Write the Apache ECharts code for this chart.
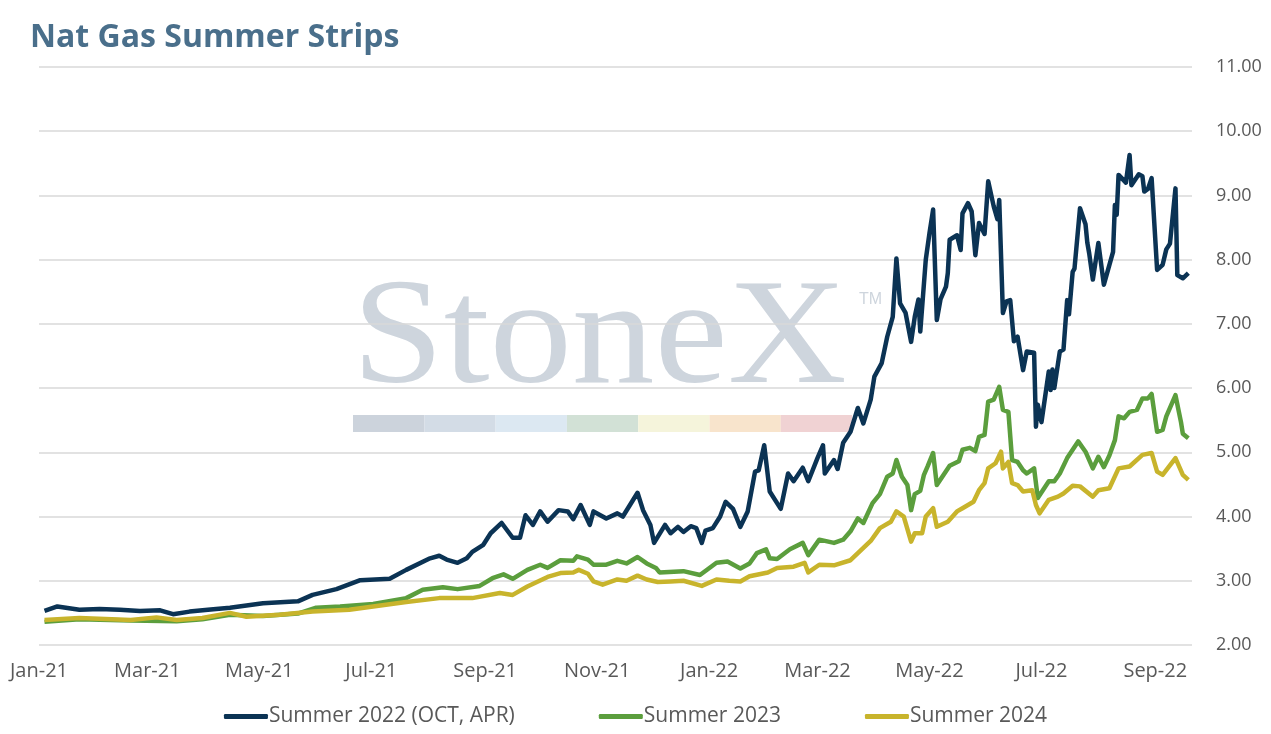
<!DOCTYPE html>
<html>
<head>
<meta charset="utf-8">
<title>Nat Gas Summer Strips</title>
<script src="https://cdn.jsdelivr.net/npm/echarts@6/dist/echarts.min.js"></script>
<style>
  html, body { margin: 0; padding: 0; background: #fff; }
  #chart { width: 1271px; height: 734px; }
</style>
</head>
<body>
<div id="chart"></div>
<script>
// x-axis ticks (every other month)
var tickDates = ['2021-01-01', '2021-03-01', '2021-05-01', '2021-07-01', '2021-09-01', '2021-11-01',
  '2022-01-01', '2022-03-01', '2022-05-01', '2022-07-01', '2022-09-01'];
var tickLabels = ['Jan-21', 'Mar-21', 'May-21', 'Jul-21', 'Sep-21', 'Nov-21',
  'Jan-22', 'Mar-22', 'May-22', 'Jul-22', 'Sep-22'];

// Summer 2022 (OCT, APR)
var s22Dates = ['2021-01-04','2021-01-11','2021-01-23','2021-02-03','2021-02-14','2021-02-25','2021-03-08','2021-03-15',
  '2021-03-24','2021-04-03','2021-04-15','2021-05-03','2021-05-22','2021-05-30','2021-06-12','2021-06-25','2021-07-11',
  '2021-07-20','2021-08-02','2021-08-07','2021-08-11','2021-08-17','2021-08-22','2021-08-25','2021-08-31','2021-09-04',
  '2021-09-10','2021-09-16','2021-09-20','2021-09-23','2021-09-27','2021-10-01','2021-10-05','2021-10-11','2021-10-16',
  '2021-10-19','2021-10-23','2021-10-28','2021-10-30','2021-11-06','2021-11-12','2021-11-15','2021-11-23','2021-11-26',
  '2021-11-30','2021-12-02','2021-12-08','2021-12-11','2021-12-15','2021-12-18','2021-12-22','2021-12-25','2021-12-28',
  '2021-12-30','2022-01-03','2022-01-07','2022-01-10','2022-01-14','2022-01-18','2022-01-22','2022-01-26','2022-01-28',
  '2022-01-31','2022-02-03','2022-02-09','2022-02-13','2022-02-16','2022-02-21','2022-02-24','2022-03-01','2022-03-04',
  '2022-03-05','2022-03-10','2022-03-12','2022-03-15','2022-03-19','2022-03-23','2022-03-26','2022-03-30','2022-04-01',
  '2022-04-05','2022-04-08','2022-04-11','2022-04-13','2022-04-15','2022-04-18','2022-04-19','2022-04-21','2022-04-23',
  '2022-04-25','2022-04-26','2022-04-29','2022-05-01','2022-05-03','2022-05-05','2022-05-07','2022-05-10','2022-05-11',
  '2022-05-12','2022-05-16','2022-05-18','2022-05-19','2022-05-22','2022-05-24','2022-05-26','2022-05-28','2022-05-31',
  '2022-06-02','2022-06-05','2022-06-07','2022-06-08','2022-06-10','2022-06-12','2022-06-14','2022-06-16','2022-06-18',
  '2022-06-21','2022-06-23','2022-06-27','2022-06-28','2022-06-29','2022-07-01','2022-07-05','2022-07-06','2022-07-07',
  '2022-07-08','2022-07-11','2022-07-13','2022-07-15','2022-07-16','2022-07-18','2022-07-19','2022-07-22','2022-07-25',
  '2022-07-26','2022-07-27','2022-07-29','2022-08-01','2022-08-04','2022-08-09','2022-08-10','2022-08-11','2022-08-12',
  '2022-08-16','2022-08-18','2022-08-19','2022-08-23','2022-08-25','2022-08-26','2022-08-28','2022-08-30','2022-09-02',
  '2022-09-05','2022-09-07','2022-09-09','2022-09-12','2022-09-13','2022-09-16','2022-09-19'];
var s22Vals = [2.53,2.60,2.55,2.56,2.55,2.53,2.54,2.48,
  2.52,2.55,2.58,2.65,2.68,2.78,2.87,3.01,3.03,
  3.17,3.35,3.39,3.33,3.28,3.35,3.45,3.56,3.74,
  3.90,3.67,3.67,4.02,3.87,4.08,3.92,4.10,4.08,
  3.96,4.18,3.87,4.08,3.97,4.05,4.00,4.37,4.10,
  3.87,3.59,3.87,3.74,3.84,3.76,3.85,3.82,3.59,
  3.78,3.82,4.00,4.23,4.12,3.84,4.08,4.70,4.72,
  5.11,4.39,4.12,4.67,4.55,4.76,4.55,4.91,5.11,
  4.67,4.88,4.74,5.15,5.32,5.69,5.45,5.82,6.18,
  6.39,6.80,7.11,8.02,7.32,7.17,7.15,6.72,7.11,
  7.38,6.88,8.00,8.41,8.78,7.06,7.38,7.58,7.79,
  8.31,8.38,8.15,8.72,8.88,8.75,8.07,8.57,8.40,
  9.22,8.83,8.63,8.93,7.17,7.35,7.37,6.73,6.80,
  6.28,6.57,6.55,5.40,5.74,5.47,6.26,5.97,6.29,
  6.00,6.57,6.60,7.37,7.15,7.81,7.86,8.80,8.55,
  8.26,8.10,7.69,8.26,7.61,8.12,8.85,8.70,9.32,
  9.20,9.63,9.16,9.33,9.30,9.06,9.10,9.27,7.84,
  7.92,8.16,8.25,9.11,7.76,7.71,7.79];

// Summer 2023
var s23Dates = ['2021-01-04','2021-01-23','2021-02-20','2021-03-17','2021-03-31','2021-04-15','2021-05-03','2021-05-22',
  '2021-06-01','2021-06-14','2021-07-02','2021-07-20','2021-07-29','2021-08-09','2021-08-17','2021-08-29','2021-09-05',
  '2021-09-11','2021-09-16','2021-09-24','2021-10-01','2021-10-05','2021-10-12','2021-10-19','2021-10-21','2021-10-27',
  '2021-10-30','2021-11-06','2021-11-12','2021-11-17','2021-11-23','2021-11-28','2021-12-03','2021-12-05','2021-12-18',
  '2021-12-27','2022-01-05','2022-01-11','2022-01-18','2022-01-23','2022-01-27','2022-02-01','2022-02-03','2022-02-07',
  '2022-02-14','2022-02-21','2022-02-24','2022-03-02','2022-03-10','2022-03-15','2022-03-19','2022-03-23','2022-03-26',
  '2022-03-31','2022-04-04','2022-04-08','2022-04-11','2022-04-13','2022-04-16','2022-04-19','2022-04-21','2022-04-23',
  '2022-04-26','2022-04-28','2022-04-30','2022-05-03','2022-05-05','2022-05-08','2022-05-12','2022-05-17','2022-05-19',
  '2022-05-23','2022-05-26','2022-05-28','2022-05-31','2022-06-02','2022-06-05','2022-06-08','2022-06-10','2022-06-13',
  '2022-06-15','2022-06-18','2022-06-21','2022-06-23','2022-06-27','2022-06-29','2022-07-05','2022-07-08','2022-07-11',
  '2022-07-15','2022-07-18','2022-07-21','2022-07-25','2022-07-29','2022-08-01','2022-08-04','2022-08-07','2022-08-10',
  '2022-08-12','2022-08-15','2022-08-18','2022-08-22','2022-08-25','2022-08-28','2022-08-30','2022-09-02','2022-09-05',
  '2022-09-07','2022-09-12','2022-09-15','2022-09-16','2022-09-19'];
var s23Vals = [2.36,2.40,2.38,2.37,2.40,2.47,2.45,2.49,
  2.58,2.60,2.64,2.73,2.86,2.90,2.87,2.92,3.04,
  3.10,3.03,3.17,3.25,3.20,3.32,3.31,3.38,3.33,
  3.25,3.25,3.31,3.27,3.37,3.27,3.20,3.13,3.15,
  3.09,3.28,3.30,3.19,3.27,3.43,3.49,3.35,3.34,
  3.49,3.59,3.40,3.64,3.59,3.64,3.77,3.97,3.90,
  4.21,4.35,4.62,4.67,4.88,4.62,4.49,4.10,4.35,
  4.40,4.65,4.78,4.99,4.49,4.62,4.79,4.86,5.04,
  5.07,5.02,5.24,5.27,5.79,5.82,6.02,5.66,5.63,
  4.88,4.85,4.72,4.67,4.75,4.29,4.55,4.55,4.67,
  4.91,5.04,5.17,5.01,4.75,4.93,4.77,4.95,5.19,
  5.56,5.53,5.63,5.66,5.84,5.84,5.91,5.32,5.35,
  5.56,5.89,5.47,5.29,5.22];

// Summer 2024
var s24Dates = ['2021-01-04','2021-01-23','2021-02-20','2021-03-06','2021-03-17','2021-03-31','2021-04-15','2021-04-24',
  '2021-05-12','2021-05-30','2021-06-19','2021-07-02','2021-07-20','2021-08-07','2021-08-25','2021-09-09','2021-09-16',
  '2021-09-24','2021-10-05','2021-10-12','2021-10-19','2021-10-22','2021-10-27','2021-10-30','2021-11-04','2021-11-12',
  '2021-11-17','2021-11-23','2021-11-28','2021-12-04','2021-12-11','2021-12-18','2021-12-28','2022-01-05','2022-01-12',
  '2022-01-18','2022-01-23','2022-02-02','2022-02-07','2022-02-16','2022-02-22','2022-02-24','2022-03-02','2022-03-10',
  '2022-03-19','2022-03-23','2022-03-30','2022-04-04','2022-04-10','2022-04-13','2022-04-17','2022-04-21','2022-04-23',
  '2022-04-27','2022-04-29','2022-05-03','2022-05-05','2022-05-11','2022-05-16','2022-05-19','2022-05-25','2022-05-28',
  '2022-05-31','2022-06-02','2022-06-06','2022-06-09','2022-06-10','2022-06-13','2022-06-15','2022-06-18','2022-06-21',
  '2022-06-26','2022-06-28','2022-06-30','2022-07-05','2022-07-10','2022-07-13','2022-07-18','2022-07-22','2022-07-29',
  '2022-08-01','2022-08-07','2022-08-12','2022-08-18','2022-08-25','2022-08-30','2022-09-02','2022-09-05','2022-09-12',
  '2022-09-16','2022-09-19'];
var s24Vals = [2.39,2.42,2.39,2.43,2.39,2.42,2.50,2.44,
  2.47,2.52,2.55,2.60,2.67,2.73,2.73,2.81,2.78,
  2.91,3.06,3.12,3.13,3.17,3.11,2.99,2.94,3.02,
  3.00,3.08,3.02,2.98,2.99,3.00,2.92,3.02,3.00,
  2.99,3.07,3.13,3.20,3.22,3.28,3.13,3.25,3.24,
  3.32,3.43,3.62,3.82,3.92,4.08,4.00,3.61,3.74,
  3.74,4.00,4.13,3.84,3.92,4.08,4.13,4.23,4.41,
  4.52,4.75,4.83,5.01,4.75,4.85,4.52,4.49,4.39,
  4.41,4.18,4.05,4.26,4.31,4.36,4.48,4.47,4.31,
  4.41,4.44,4.75,4.78,4.96,4.99,4.70,4.65,4.91,
  4.65,4.57];

var seriesNames = ['Summer 2022 (OCT, APR)', 'Summer 2023', 'Summer 2024'];
var seriesColors = ['#0b3354', '#5b9e3d', '#c8b42c'];

// watermark band colours
var bandColors = ['#ccd3dc', '#d3dce6', '#dce8f2', '#d2e1d6', '#f5f4db', '#f8e4cc', '#f0d2d3'];

function toTime(s) {
  var p = s.split('-');
  return new Date(+p[0], +p[1] - 1, +p[2]).getTime();
}
function pairs(dates, vals) {
  return dates.map(function (d, i) { return [toTime(d), vals[i]]; });
}

var tickTimes = tickDates.map(toTime);
var labelFor = {};
tickTimes.forEach(function (t, i) { labelFor[t] = tickLabels[i]; });

var font = '"Open Sans", sans-serif';
var graphics = [{
  type: 'text', x: 352, y: 343, scaleX: 1.1, z: -10, silent: true,
  style: { text: 'StoneX', x: 0, y: 0, fill: '#ced5dd', font: '150px "Liberation Serif"', verticalAlign: 'middle', align: 'left' }
}, {
  type: 'text', x: 859, y: 300, z: -10, silent: true,
  style: { text: 'TM', fill: '#ced5dd', font: '16px "Liberation Sans"', verticalAlign: 'middle' }
}];
bandColors.forEach(function (c, i) {
  graphics.push({
    type: 'rect', z: -10, silent: true,
    shape: { x: 353 + i * 71.3, y: 415, width: 71.3, height: 17 },
    style: { fill: c }
  });
});

var chart = echarts.init(document.getElementById('chart'), null, { renderer: 'canvas' });
chart.setOption({
  animation: false,
  backgroundColor: '#fff',
  title: {
    text: 'Nat Gas Summer Strips',
    left: 25, top: 17,
    textStyle: { fontFamily: font, fontSize: 32, fontWeight: 'bold', color: '#4a6f8b' }
  },
  graphic: graphics,
  legend: {
    data: seriesNames,
    bottom: 2,
    left: 'center',
    icon: 'roundRect',
    itemWidth: 44,
    itemHeight: 5,
    itemGap: 84,
    textStyle: { fontFamily: font, fontSize: 21, color: '#595959', padding: [0, 0, 0, -4] }
  },
  grid: { left: 39, right: 79, top: 67, bottom: 89 },
  xAxis: {
    // date axis drawn as a value axis of timestamps, labelled every other month
    type: 'value',
    min: toTime('2021-01-01'),
    max: toTime('2022-09-21'),
    axisLine: { show: false },
    axisTick: { show: false },
    splitLine: { show: false },
    axisLabel: {
      customValues: tickTimes,
      margin: 16,
      fontFamily: font,
      fontSize: 20,
      color: '#595959',
      formatter: function (v) { return labelFor[v] || ''; }
    }
  },
  yAxis: {
    type: 'value',
    position: 'right',
    min: 2, max: 11, interval: 1,
    axisLine: { show: false },
    axisTick: { show: false },
    splitLine: { lineStyle: { color: '#d9d9d9', width: 1.5 } },
    axisLabel: {
      margin: 24,
      fontFamily: font,
      fontSize: 18,
      color: '#595959',
      formatter: function (v) { return v.toFixed(2); }
    }
  },
  series: [
    { name: seriesNames[0], data: pairs(s22Dates, s22Vals) },
    { name: seriesNames[1], data: pairs(s23Dates, s23Vals) },
    { name: seriesNames[2], data: pairs(s24Dates, s24Vals) }
  ].map(function (s, i) {
    return {
      name: s.name, type: 'line', data: s.data,
      showSymbol: false, symbol: 'none',
      color: seriesColors[i],
      lineStyle: { color: seriesColors[i], width: 4.5, join: 'round' }
    };
  })
});
</script>
</body>
</html>
